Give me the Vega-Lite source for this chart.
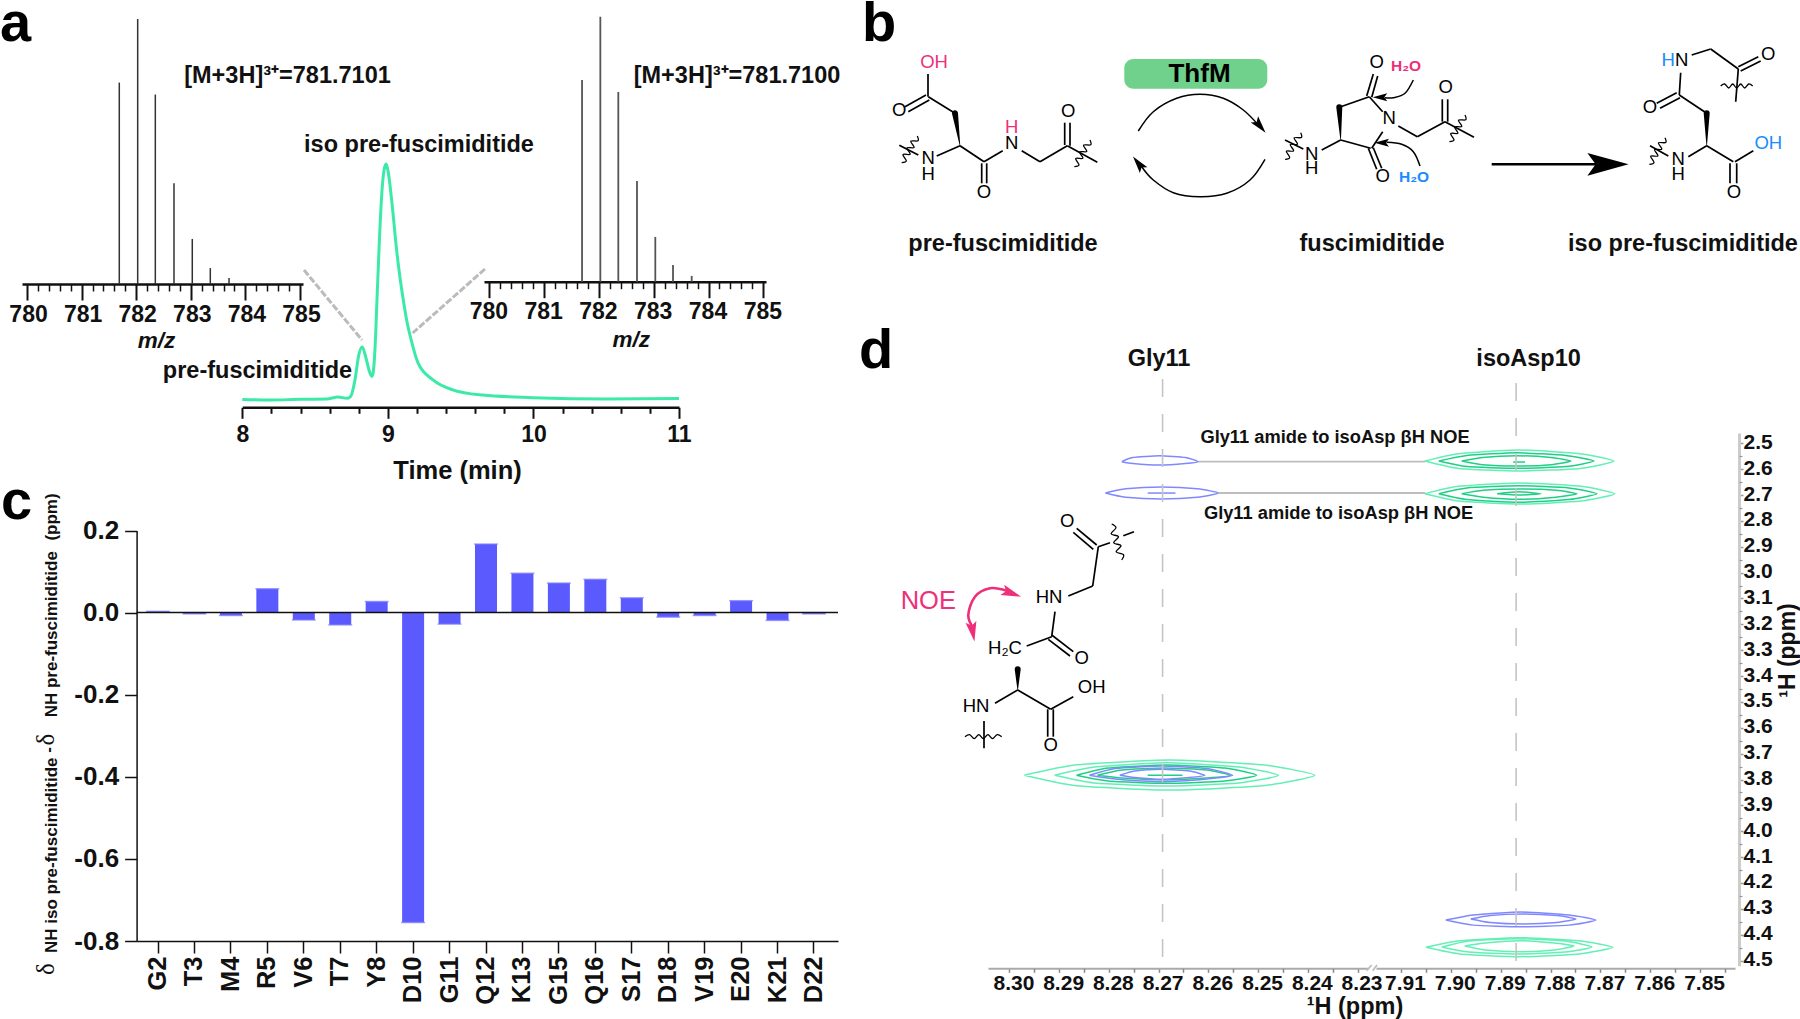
{
"$schema":"https://vega.github.io/schema/vega-lite/v6.json",
"width":1800,"height":1019,"padding":0,"autosize":"none","background":"white",
"config":{"view":{"stroke":null},"font":"Liberation Sans","axis":{"grid":false,"labelFont":"Liberation Sans","titleFont":"Liberation Sans","labelFontWeight":"bold","titleFontWeight":"bold","labelColor":"#111","titleColor":"#111","labelOverlap":false,"labelFlush":false,"labelBound":false,"domainColor":"#111","tickColor":"#111"}},
"resolve":{"scale":{"x":"independent","y":"independent","color":"independent"},"axis":{"x":"independent","y":"independent"}},
"datasets":{
"msLeft":[{"mz":781.69,"intensity":76},{"mz":782.027,"intensity":100},{"mz":782.35,"intensity":71.5},{"mz":782.692,"intensity":38},{"mz":783.027,"intensity":17},{"mz":783.357,"intensity":6},{"mz":783.7,"intensity":2.3}],
"msRight":[{"mz":781.692,"intensity":76.1},{"mz":782.026,"intensity":100},{"mz":782.354,"intensity":71.6},{"mz":782.695,"intensity":38},{"mz":783.029,"intensity":16.9},{"mz":783.352,"intensity":6.3},{"mz":783.693,"intensity":2.2}],
"chrom":[{"t":8.0,"i":0.2},{"t":8.2,"i":0.0},{"t":8.4,"i":0.3},{"t":8.58,"i":0.4},{"t":8.657,"i":1.3},{"t":8.72,"i":0.7},{"t":8.745,"i":1.6},{"t":8.774,"i":8.5},{"t":8.8,"i":19},{"t":8.824,"i":22.5},{"t":8.85,"i":17.7},{"t":8.875,"i":11.8},{"t":8.89,"i":10},{"t":8.9,"i":12},{"t":8.911,"i":21},{"t":8.925,"i":42},{"t":8.942,"i":68},{"t":8.96,"i":89},{"t":8.974,"i":97.5},{"t":8.988,"i":100},{"t":9.0,"i":97.5},{"t":9.026,"i":84.7},{"t":9.06,"i":63.6},{"t":9.083,"i":52},{"t":9.106,"i":42.4},{"t":9.129,"i":33.9},{"t":9.164,"i":24.5},{"t":9.207,"i":15.7},{"t":9.31,"i":8.5},{"t":9.45,"i":4.2},{"t":9.65,"i":2.1},{"t":10.0,"i":1.0},{"t":10.5,"i":0.4},{"t":11.0,"i":0.6}],
"shift":[{"residue":"G2","delta":0.003},{"residue":"T3","delta":-0.003},{"residue":"M4","delta":-0.007},{"residue":"R5","delta":0.058},{"residue":"V6","delta":-0.018},{"residue":"T7","delta":-0.03},{"residue":"Y8","delta":0.027},{"residue":"D10","delta":-0.755},{"residue":"G11","delta":-0.028},{"residue":"Q12","delta":0.167},{"residue":"K13","delta":0.096},{"residue":"G15","delta":0.072},{"residue":"Q16","delta":0.081},{"residue":"S17","delta":0.036},{"residue":"D18","delta":-0.011},{"residue":"V19","delta":-0.007},{"residue":"E20","delta":0.029},{"residue":"K21","delta":-0.019},{"residue":"D22","delta":-0.003}],
"bonds":[
{"x":92.8,"y":7.4,"x2":92.8,"y2":9.67},{"x":92.6,"y":9.5,"x2":90.5,"y2":10.67},{"x":92.93,"y":10.0,"x2":90.83,"y2":11.17},{"x":92.83,"y":9.67,"x2":95.5,"y2":11.33},{"x":96.0,"y":14.57,"x2":93.67,"y2":15.6},{"x":96.0,"y":14.57,"x2":98.4,"y2":16.17},{"x":98.17,"y":16.33,"x2":98.17,"y2":18.33},{"x":98.67,"y":16.33,"x2":98.67,"y2":18.33},{"x":98.4,"y":16.17,"x2":100.27,"y2":15.07},{"x":102.17,"y":15.07,"x2":104.0,"y2":16.17},{"x":104.0,"y":16.17,"x2":106.73,"y2":14.57},{"x":106.47,"y":14.5,"x2":106.47,"y2":12.27},{"x":107.0,"y":14.57,"x2":107.0,"y2":12.27},{"x":106.73,"y":14.57,"x2":109.73,"y2":16.23},{"x":89.93,"y":14.53,"x2":91.83,"y2":15.5},
{"x":134.07,"y":14.0,"x2":132.17,"y2":15.0},{"x":133.93,"y":10.73,"x2":136.93,"y2":9.67},{"x":136.67,"y":9.6,"x2":137.33,"y2":7.4},{"x":137.17,"y":9.73,"x2":137.77,"y2":7.6},{"x":136.93,"y":9.67,"x2":138.27,"y2":11.17},{"x":134.07,"y":14.0,"x2":137.07,"y2":14.83},{"x":137.17,"y":14.83,"x2":138.27,"y2":13.17},{"x":136.83,"y":14.83,"x2":137.67,"y2":16.93},{"x":137.33,"y":14.77,"x2":138.17,"y2":16.83},{"x":139.83,"y":12.6,"x2":141.73,"y2":13.67},{"x":141.73,"y":13.67,"x2":144.5,"y2":12.17},{"x":144.23,"y":12.17,"x2":144.23,"y2":9.93},{"x":144.77,"y":12.17,"x2":144.77,"y2":9.93},{"x":144.5,"y":12.17,"x2":147.4,"y2":13.73},{"x":128.5,"y":14.0,"x2":130.33,"y2":14.9},
{"x":169.17,"y":5.5,"x2":171.07,"y2":4.9},{"x":171.07,"y":4.9,"x2":173.83,"y2":6.9},{"x":173.83,"y":6.67,"x2":175.83,"y2":5.67},{"x":174.07,"y":7.1,"x2":176.07,"y2":6.1},{"x":173.83,"y":6.9,"x2":173.57,"y2":10.17},{"x":168.07,"y":7.27,"x2":167.93,"y2":9.5},{"x":167.67,"y":9.27,"x2":165.67,"y2":10.33},{"x":168.0,"y":9.77,"x2":166.0,"y2":10.83},{"x":167.93,"y":9.5,"x2":170.67,"y2":11.33},{"x":170.67,"y":14.57,"x2":168.83,"y2":15.67},{"x":170.67,"y":14.57,"x2":173.33,"y2":16.17},{"x":173.0,"y":16.33,"x2":173.0,"y2":18.33},{"x":173.67,"y":16.33,"x2":173.67,"y2":18.33},{"x":173.5,"y":16.17,"x2":175.33,"y2":15.07},{"x":165.0,"y":14.57,"x2":166.83,"y2":15.6},
{"x":107.67,"y":52.83,"x2":109.67,"y2":54.5},{"x":107.33,"y":53.23,"x2":109.33,"y2":54.93},{"x":109.83,"y":54.67,"x2":109.27,"y2":58.6},{"x":109.83,"y":54.67,"x2":111.0,"y2":54.27},{"x":112.33,"y":53.57,"x2":113.4,"y2":53.17},{"x":109.27,"y":58.6,"x2":106.83,"y2":59.6},{"x":105.5,"y":61.17,"x2":105.17,"y2":63.67},{"x":105.17,"y":63.5,"x2":107.33,"y2":65.17},{"x":104.83,"y":63.93,"x2":107.0,"y2":65.6},{"x":105.17,"y":63.67,"x2":102.67,"y2":64.6},{"x":101.77,"y":69.0,"x2":99.5,"y2":70.33},{"x":101.77,"y":69.0,"x2":105.07,"y2":70.93},{"x":104.77,"y":70.93,"x2":104.77,"y2":73.67},{"x":105.33,"y":70.93,"x2":105.33,"y2":73.67},{"x":105.07,"y":70.93,"x2":107.33,"y2":69.67},{"x":98.4,"y":72.1,"x2":98.4,"y2":74.83}],
"wedges":[{"id":"a","x":95.5,"y":11.33,"w":1,"i":0},{"id":"a","x":96.0,"y":14.57,"w":0,"i":1},{"id":"b","x":133.93,"y":10.73,"w":1,"i":0},{"id":"b","x":134.07,"y":14.0,"w":0,"i":1},{"id":"c","x":170.67,"y":11.33,"w":1,"i":0},{"id":"c","x":170.67,"y":14.57,"w":0,"i":1},{"id":"d","x":101.77,"y":66.93,"w":1,"i":0},{"id":"d","x":101.77,"y":69.0,"w":0,"i":1}],
"waves":[
{"id":1,"x":91.73,"y":13.6},{"id":1,"x":91.8,"y":14.08},{"id":1,"x":91.08,"y":14.12},{"id":1,"x":91.41,"y":14.75},{"id":1,"x":90.69,"y":14.79},{"id":1,"x":91.02,"y":15.42},{"id":1,"x":90.3,"y":15.45},{"id":1,"x":90.63,"y":16.09},{"id":1,"x":90.17,"y":16.27},
{"id":2,"x":109.0,"y":14.0},{"id":2,"x":109.07,"y":14.48},{"id":2,"x":108.35,"y":14.52},{"id":2,"x":108.68,"y":15.15},{"id":2,"x":107.96,"y":15.19},{"id":2,"x":108.29,"y":15.82},{"id":2,"x":107.57,"y":15.85},{"id":2,"x":107.9,"y":16.49},{"id":2,"x":107.44,"y":16.67},
{"id":3,"x":130.07,"y":13.27},{"id":3,"x":130.14,"y":13.75},{"id":3,"x":129.42,"y":13.79},{"id":3,"x":129.75,"y":14.42},{"id":3,"x":129.03,"y":14.46},{"id":3,"x":129.36,"y":15.09},{"id":3,"x":128.64,"y":15.12},{"id":3,"x":128.97,"y":15.76},{"id":3,"x":128.51,"y":15.94},
{"id":4,"x":146.5,"y":11.5},{"id":4,"x":146.57,"y":11.98},{"id":4,"x":145.85,"y":12.02},{"id":4,"x":146.18,"y":12.65},{"id":4,"x":145.46,"y":12.69},{"id":4,"x":145.79,"y":13.32},{"id":4,"x":145.07,"y":13.35},{"id":4,"x":145.4,"y":13.99},{"id":4,"x":144.94,"y":14.17},
{"id":5,"x":166.5,"y":13.77},{"id":5,"x":166.57,"y":14.25},{"id":5,"x":165.85,"y":14.29},{"id":5,"x":166.18,"y":14.92},{"id":5,"x":165.46,"y":14.96},{"id":5,"x":165.79,"y":15.59},{"id":5,"x":165.07,"y":15.62},{"id":5,"x":165.4,"y":16.26},{"id":5,"x":164.94,"y":16.44},
{"id":6,"x":172.07,"y":8.6},{"id":6,"x":172.47,"y":8.4},{"id":6,"x":172.87,"y":8.8},{"id":6,"x":173.27,"y":8.4},{"id":6,"x":173.67,"y":8.8},{"id":6,"x":174.07,"y":8.4},{"id":6,"x":174.47,"y":8.8},{"id":6,"x":174.87,"y":8.4},{"id":6,"x":175.27,"y":8.6},
{"id":7,"x":111.17,"y":52.4},{"id":7,"x":111.6,"y":52.77},{"id":7,"x":111.12,"y":53.38},{"id":7,"x":111.85,"y":53.67},{"id":7,"x":111.37,"y":54.28},{"id":7,"x":112.1,"y":54.57},{"id":7,"x":111.62,"y":55.18},{"id":7,"x":112.35,"y":55.47},{"id":7,"x":112.17,"y":56.0},
{"id":8,"x":96.5,"y":73.67},{"id":8,"x":96.96,"y":73.47},{"id":8,"x":97.42,"y":73.87},{"id":8,"x":97.88,"y":73.47},{"id":8,"x":98.33,"y":73.87},{"id":8,"x":98.79,"y":73.47},{"id":8,"x":99.25,"y":73.87},{"id":8,"x":99.71,"y":73.47},{"id":8,"x":100.17,"y":73.67}],
"curves":[
{"id":"top","x":113.83,"y":13.1},{"id":"top","x":115.33,"y":11.17},{"id":"top","x":117.67,"y":9.83},{"id":"top","x":120.0,"y":9.43},{"id":"top","x":122.33,"y":9.83},{"id":"top","x":124.33,"y":11.0},{"id":"top","x":125.83,"y":12.5},
{"id":"bottom","x":126.5,"y":15.93},{"id":"bottom","x":125.0,"y":18.0},{"id":"bottom","x":122.67,"y":19.33},{"id":"bottom","x":120.0,"y":19.67},{"id":"bottom","x":117.33,"y":19.27},{"id":"bottom","x":115.33,"y":18.0},{"id":"bottom","x":114.17,"y":16.67},
{"id":"h2oA","x":141.33,"y":8.0},{"id":"h2oA","x":140.5,"y":9.33},{"id":"h2oA","x":139.33,"y":9.77},{"id":"h2oA","x":138.5,"y":9.77},
{"id":"h2oB","x":142.0,"y":16.6},{"id":"h2oB","x":141.33,"y":15.17},{"id":"h2oB","x":140.17,"y":14.43},{"id":"h2oB","x":138.67,"y":14.23}],
"noeCurve":[{"x":97.33,"y":62.83},{"x":96.83,"y":61.5},{"x":97.5,"y":59.67},{"x":99.0,"y":58.83},{"x":100.67,"y":59.07}],
"heads":[{"x":126.0,"y":12.6,"dir":50,"area":300,"tone":"ink"},{"x":113.83,"y":16.33,"dir":232,"area":300,"tone":"ink"},{"x":138.0,"y":9.73,"dir":180,"area":210,"tone":"ink"},{"x":138.17,"y":14.27,"dir":180,"area":210,"tone":"ink"},{"x":160.8,"y":16.43,"dir":0,"area":1700,"tone":"ink"},{"x":101.17,"y":59.33,"dir":20,"area":400,"tone":"acid"},{"x":97.27,"y":63.17,"dir":80,"area":400,"tone":"acid"}],
"chemText":[{"x":93.4,"y":6.17,"label":"OH","tone":"acid"},{"x":89.93,"y":11.0,"label":"O","tone":"ink"},{"x":92.83,"y":15.83,"label":"N","tone":"ink"},{"x":92.83,"y":17.4,"label":"H","tone":"ink"},{"x":98.4,"y":19.17,"label":"O","tone":"ink"},{"x":101.17,"y":14.27,"label":"N","tone":"ink"},{"x":101.17,"y":12.73,"label":"H","tone":"acid"},{"x":106.83,"y":11.07,"label":"O","tone":"ink"},
{"x":131.17,"y":15.4,"label":"N","tone":"ink"},{"x":131.17,"y":16.83,"label":"H","tone":"ink"},{"x":137.67,"y":6.17,"label":"O","tone":"ink"},{"x":138.93,"y":11.83,"label":"N","tone":"ink"},{"x":138.27,"y":17.6,"label":"O","tone":"ink"},{"x":144.57,"y":8.67,"label":"O","tone":"ink"},
{"x":166.83,"y":6.0,"label":"H","tone":"water"},{"x":168.17,"y":6.0,"label":"N","tone":"ink"},{"x":176.83,"y":5.4,"label":"O","tone":"ink"},{"x":165.0,"y":10.67,"label":"O","tone":"ink"},{"x":167.83,"y":15.93,"label":"N","tone":"ink"},{"x":167.83,"y":17.4,"label":"H","tone":"ink"},{"x":173.4,"y":19.17,"label":"O","tone":"ink"},{"x":176.83,"y":14.33,"label":"OH","tone":"water"},
{"x":106.73,"y":52.07,"label":"O","tone":"ink"},{"x":104.9,"y":59.67,"label":"HN","tone":"ink"},{"x":108.17,"y":65.83,"label":"O","tone":"ink"},{"x":100.5,"y":64.83,"label":"H₂C","tone":"ink"},{"x":97.6,"y":70.57,"label":"HN","tone":"ink"},{"x":109.17,"y":68.67,"label":"OH","tone":"ink"},{"x":105.07,"y":74.5,"label":"O","tone":"ink"}],
"waterText":[{"x":140.6,"y":6.6,"label":"H₂O","tone":"acid"},{"x":141.4,"y":17.73,"label":"H₂O","tone":"water"}],
"boldText":[{"x":28.75,"y":7.6,"label":"[M+3H]³⁺=781.7101"},{"x":73.7,"y":7.6,"label":"[M+3H]³⁺=781.7100"},{"x":41.9,"y":14.5,"label":"iso pre-fuscimiditide"},{"x":25.75,"y":37.1,"label":"pre-fuscimiditide"},{"x":100.3,"y":24.4,"label":"pre-fuscimiditide"},{"x":137.2,"y":24.4,"label":"fuscimiditide"},{"x":168.3,"y":24.4,"label":"iso pre-fuscimiditide"},{"x":115.9,"y":35.9,"label":"Gly11"},{"x":152.86,"y":35.9,"label":"isoAsp10"}],
"noeText":[{"x":133.5,"y":43.8,"label":"Gly11 amide to isoAsp βH NOE"},{"x":133.85,"y":51.35,"label":"Gly11 amide to isoAsp βH NOE"}],
"letters":[{"x":0,"y":4.1,"label":"a"},{"x":86.2,"y":4.1,"label":"b"},{"x":0.1,"y":51.9,"label":"c"},{"x":85.9,"y":36.8,"label":"d"}],
"ytitle":[{"x":5.23,"y":85.52,"label":"NH iso pre-fuscimiditide"},{"x":4.9,"y":75.0,"label":"-"},{"x":5.23,"y":63.42,"label":"NH pre-fuscimiditide"},{"x":5.23,"y":51.7,"label":"(ppm)"}],
"ydelta":[{"x":4.55,"y":96.9,"label":"δ"},{"x":4.55,"y":73.97,"label":"δ"}],
"contoursR":[
{"r":"R1","s":"isoLow","x":7.9052,"y":2.5684},{"r":"R1","s":"isoLow","x":7.8984,"y":2.5398},{"r":"R1","s":"isoLow","x":7.8862,"y":2.5259},{"r":"R1","s":"isoLow","x":7.8741,"y":2.5398},{"r":"R1","s":"isoLow","x":7.8673,"y":2.5684},{"r":"R1","s":"isoLow","x":7.8741,"y":2.5971},{"r":"R1","s":"isoLow","x":7.8862,"y":2.6071},{"r":"R1","s":"isoLow","x":7.8984,"y":2.5971},{"r":"R1","s":"isoLow","x":7.9052,"y":2.5684},
{"r":"R2","s":"isoHigh","x":7.9024,"y":2.5684},{"r":"R2","s":"isoHigh","x":7.8968,"y":2.5472},{"r":"R2","s":"isoHigh","x":7.8868,"y":2.5363},{"r":"R2","s":"isoHigh","x":7.8769,"y":2.5472},{"r":"R2","s":"isoHigh","x":7.8713,"y":2.5684},{"r":"R2","s":"isoHigh","x":7.8769,"y":2.5897},{"r":"R2","s":"isoHigh","x":7.8868,"y":2.5967},{"r":"R2","s":"isoHigh","x":7.8968,"y":2.5897},{"r":"R2","s":"isoHigh","x":7.9024,"y":2.5684},
{"r":"R3","s":"isoHigh","x":7.8978,"y":2.5684},{"r":"R3","s":"isoHigh","x":7.8937,"y":2.5545},{"r":"R3","s":"isoHigh","x":7.8868,"y":2.548},{"r":"R3","s":"isoHigh","x":7.8799,"y":2.5545},{"r":"R3","s":"isoHigh","x":7.8759,"y":2.5684},{"r":"R3","s":"isoHigh","x":7.8799,"y":2.5824},{"r":"R3","s":"isoHigh","x":7.8868,"y":2.5878},{"r":"R3","s":"isoHigh","x":7.8937,"y":2.5824},{"r":"R3","s":"isoHigh","x":7.8978,"y":2.5684},
{"r":"R4","s":"isoHigh","x":7.8875,"y":2.5723},{"r":"R4","s":"isoHigh","x":7.8851,"y":2.5723},
{"r":"R5","s":"isoLow","x":7.9052,"y":2.6949},{"r":"R5","s":"isoLow","x":7.8984,"y":2.6663},{"r":"R5","s":"isoLow","x":7.8861,"y":2.6535},{"r":"R5","s":"isoLow","x":7.8739,"y":2.6663},{"r":"R5","s":"isoLow","x":7.8671,"y":2.6949},{"r":"R5","s":"isoLow","x":7.8739,"y":2.7231},{"r":"R5","s":"isoLow","x":7.8861,"y":2.7347},{"r":"R5","s":"isoLow","x":7.8984,"y":2.7231},{"r":"R5","s":"isoLow","x":7.9052,"y":2.6949},
{"r":"R6","s":"isoHigh","x":7.9024,"y":2.6949},{"r":"R6","s":"isoHigh","x":7.8968,"y":2.6725},{"r":"R6","s":"isoHigh","x":7.8865,"y":2.664},{"r":"R6","s":"isoHigh","x":7.8763,"y":2.6725},{"r":"R6","s":"isoHigh","x":7.8707,"y":2.6949},{"r":"R6","s":"isoHigh","x":7.8763,"y":2.7173},{"r":"R6","s":"isoHigh","x":7.8865,"y":2.7282},{"r":"R6","s":"isoHigh","x":7.8968,"y":2.7173},{"r":"R6","s":"isoHigh","x":7.9024,"y":2.6949},
{"r":"R7","s":"isoHigh","x":7.8978,"y":2.6949},{"r":"R7","s":"isoHigh","x":7.8935,"y":2.6814},{"r":"R7","s":"isoHigh","x":7.8862,"y":2.6767},{"r":"R7","s":"isoHigh","x":7.8789,"y":2.6814},{"r":"R7","s":"isoHigh","x":7.8747,"y":2.6949},{"r":"R7","s":"isoHigh","x":7.8789,"y":2.7084},{"r":"R7","s":"isoHigh","x":7.8862,"y":2.7166},{"r":"R7","s":"isoHigh","x":7.8935,"y":2.7084},{"r":"R7","s":"isoHigh","x":7.8978,"y":2.6949},
{"r":"R8","s":"isoHigh","x":7.8907,"y":2.6949},{"r":"R8","s":"isoHigh","x":7.8863,"y":2.6872},{"r":"R8","s":"isoHigh","x":7.8819,"y":2.6949},{"r":"R8","s":"isoHigh","x":7.8863,"y":2.6999},{"r":"R8","s":"isoHigh","x":7.8907,"y":2.6949},
{"r":"R9","s":"pre","x":7.901,"y":4.3434},{"r":"R9","s":"pre","x":7.8955,"y":4.3237},{"r":"R9","s":"pre","x":7.8859,"y":4.3125},{"r":"R9","s":"pre","x":7.8763,"y":4.3237},{"r":"R9","s":"pre","x":7.8709,"y":4.3434},{"r":"R9","s":"pre","x":7.8763,"y":4.3631},{"r":"R9","s":"pre","x":7.8859,"y":4.3693},{"r":"R9","s":"pre","x":7.8955,"y":4.3631},{"r":"R9","s":"pre","x":7.901,"y":4.3434},
{"r":"R10","s":"pre","x":7.896,"y":4.3395},{"r":"R10","s":"pre","x":7.8921,"y":4.326},{"r":"R10","s":"pre","x":7.8855,"y":4.3202},{"r":"R10","s":"pre","x":7.8787,"y":4.326},{"r":"R10","s":"pre","x":7.8749,"y":4.3395},{"r":"R10","s":"pre","x":7.8787,"y":4.3531},{"r":"R10","s":"pre","x":7.8855,"y":4.3589},{"r":"R10","s":"pre","x":7.8921,"y":4.3531},{"r":"R10","s":"pre","x":7.896,"y":4.3395},
{"r":"R11","s":"isoLow","x":7.905,"y":4.449},{"r":"R11","s":"isoLow","x":7.8982,"y":4.4234},{"r":"R11","s":"isoLow","x":7.8862,"y":4.4118},{"r":"R11","s":"isoLow","x":7.8743,"y":4.4234},{"r":"R11","s":"isoLow","x":7.8675,"y":4.449},{"r":"R11","s":"isoLow","x":7.8743,"y":4.4745},{"r":"R11","s":"isoLow","x":7.8862,"y":4.4853},{"r":"R11","s":"isoLow","x":7.8982,"y":4.4745},{"r":"R11","s":"isoLow","x":7.905,"y":4.449},
{"r":"R12","s":"isoLow","x":7.9018,"y":4.4478},{"r":"R12","s":"isoLow","x":7.8964,"y":4.4246},{"r":"R12","s":"isoLow","x":7.8867,"y":4.4157},{"r":"R12","s":"isoLow","x":7.8771,"y":4.4246},{"r":"R12","s":"isoLow","x":7.8717,"y":4.4478},{"r":"R12","s":"isoLow","x":7.8771,"y":4.4671},{"r":"R12","s":"isoLow","x":7.8867,"y":4.4749},{"r":"R12","s":"isoLow","x":7.8964,"y":4.4671},{"r":"R12","s":"isoLow","x":7.9018,"y":4.4478},
{"r":"R13","s":"isoLow","x":7.8972,"y":4.4439},{"r":"R13","s":"isoLow","x":7.8931,"y":4.4323},{"r":"R13","s":"isoLow","x":7.8862,"y":4.4234},{"r":"R13","s":"isoLow","x":7.8793,"y":4.4323},{"r":"R13","s":"isoLow","x":7.8753,"y":4.4439},{"r":"R13","s":"isoLow","x":7.8793,"y":4.4594},{"r":"R13","s":"isoLow","x":7.8862,"y":4.466},{"r":"R13","s":"isoLow","x":7.8931,"y":4.4594},{"r":"R13","s":"isoLow","x":7.8972,"y":4.4439}],
"contoursL":[
{"r":"L1","s":"pre","x":8.2774,"y":2.5712},{"r":"L1","s":"pre","x":8.2752,"y":2.5549},{"r":"L1","s":"pre","x":8.2698,"y":2.548},{"r":"L1","s":"pre","x":8.2646,"y":2.5549},{"r":"L1","s":"pre","x":8.262,"y":2.5712},{"r":"L1","s":"pre","x":8.2646,"y":2.5781},{"r":"L1","s":"pre","x":8.2698,"y":2.5839},{"r":"L1","s":"pre","x":8.2752,"y":2.5781},{"r":"L1","s":"pre","x":8.2774,"y":2.5712},
{"r":"L2","s":"pre","x":8.2807,"y":2.6922},{"r":"L2","s":"pre","x":8.2766,"y":2.676},{"r":"L2","s":"pre","x":8.2694,"y":2.669},{"r":"L2","s":"pre","x":8.2622,"y":2.676},{"r":"L2","s":"pre","x":8.2579,"y":2.6922},{"r":"L2","s":"pre","x":8.2622,"y":2.7084},{"r":"L2","s":"pre","x":8.2694,"y":2.7154},{"r":"L2","s":"pre","x":8.2766,"y":2.7084},{"r":"L2","s":"pre","x":8.2807,"y":2.6922},
{"r":"L3","s":"pre","x":8.2722,"y":2.6922},{"r":"L3","s":"pre","x":8.2666,"y":2.6922},
{"r":"L4","s":"isoLow","x":8.297,"y":3.7838},{"r":"L4","s":"isoLow","x":8.2865,"y":3.7432},{"r":"L4","s":"isoLow","x":8.2678,"y":3.7247},{"r":"L4","s":"isoLow","x":8.2491,"y":3.7432},{"r":"L4","s":"isoLow","x":8.2386,"y":3.7838},{"r":"L4","s":"isoLow","x":8.2491,"y":3.8244},{"r":"L4","s":"isoLow","x":8.2678,"y":3.8407},{"r":"L4","s":"isoLow","x":8.2865,"y":3.8244},{"r":"L4","s":"isoLow","x":8.297,"y":3.7838},
{"r":"L5","s":"isoLow","x":8.2909,"y":3.7838},{"r":"L5","s":"isoLow","x":8.2829,"y":3.7518},{"r":"L5","s":"isoLow","x":8.2684,"y":3.7351},{"r":"L5","s":"isoLow","x":8.2539,"y":3.7518},{"r":"L5","s":"isoLow","x":8.2459,"y":3.7838},{"r":"L5","s":"isoLow","x":8.2539,"y":3.8136},{"r":"L5","s":"isoLow","x":8.2684,"y":3.8252},{"r":"L5","s":"isoLow","x":8.2829,"y":3.8136},{"r":"L5","s":"isoLow","x":8.2909,"y":3.7838},
{"r":"L6","s":"isoHigh","x":8.2865,"y":3.7838},{"r":"L6","s":"isoHigh","x":8.2801,"y":3.7556},{"r":"L6","s":"isoHigh","x":8.2684,"y":3.744},{"r":"L6","s":"isoHigh","x":8.2567,"y":3.7556},{"r":"L6","s":"isoHigh","x":8.2503,"y":3.7838},{"r":"L6","s":"isoHigh","x":8.2567,"y":3.8059},{"r":"L6","s":"isoHigh","x":8.2684,"y":3.8148},{"r":"L6","s":"isoHigh","x":8.2801,"y":3.8059},{"r":"L6","s":"isoHigh","x":8.2865,"y":3.7838},
{"r":"L7","s":"isoHigh","x":8.2823,"y":3.7838},{"r":"L7","s":"isoHigh","x":8.2774,"y":3.7633},{"r":"L7","s":"isoHigh","x":8.2688,"y":3.7556},{"r":"L7","s":"isoHigh","x":8.2603,"y":3.7633},{"r":"L7","s":"isoHigh","x":8.2555,"y":3.7838},{"r":"L7","s":"isoHigh","x":8.2603,"y":3.7943},{"r":"L7","s":"isoHigh","x":8.2688,"y":3.802},{"r":"L7","s":"isoHigh","x":8.2774,"y":3.7943},{"r":"L7","s":"isoHigh","x":8.2823,"y":3.7838},
{"r":"L8","s":"pre","x":8.2839,"y":3.7838},{"r":"L8","s":"pre","x":8.2787,"y":3.7576},{"r":"L8","s":"pre","x":8.2694,"y":3.7479},{"r":"L8","s":"pre","x":8.2603,"y":3.7576},{"r":"L8","s":"pre","x":8.2551,"y":3.7838},{"r":"L8","s":"pre","x":8.2603,"y":3.7981},{"r":"L8","s":"pre","x":8.2694,"y":3.8086},{"r":"L8","s":"pre","x":8.2787,"y":3.7981},{"r":"L8","s":"pre","x":8.2839,"y":3.7838},
{"r":"L9","s":"pre","x":8.2778,"y":3.7838},{"r":"L9","s":"pre","x":8.2748,"y":3.7672},{"r":"L9","s":"pre","x":8.2694,"y":3.7606},{"r":"L9","s":"pre","x":8.2638,"y":3.7672},{"r":"L9","s":"pre","x":8.2607,"y":3.7838},{"r":"L9","s":"pre","x":8.2638,"y":3.7924},{"r":"L9","s":"pre","x":8.2694,"y":3.7993},{"r":"L9","s":"pre","x":8.2748,"y":3.7924},{"r":"L9","s":"pre","x":8.2778,"y":3.7838},
{"r":"L10","s":"isoHigh","x":8.2722,"y":3.7838},{"r":"L10","s":"isoHigh","x":8.2652,"y":3.7838}]
},
"layer":[
{"data":{"name":"msLeft"},"mark":{"type":"rule","stroke":"#333","strokeWidth":1.5},"encoding":{"x":{"field":"mz","type":"quantitative","scale":{"domain":[779.908,785.055],"range":[22,303]},"axis":{"orient":"bottom","offset":-735,"values":[780,781,782,783,784,785],"format":"d","tickSize":16,"tickWidth":2,"domainWidth":2.5,"labelFontSize":23,"labelPadding":3,"labelOffset":1,"title":"m/z","titleFontStyle":"italic","titleFontSize":22.5,"titleX":156,"titleY":56,"titleBaseline":"middle"}},"y":{"field":"intensity","type":"quantitative","scale":{"domain":[0,100],"range":[284,19]},"axis":null},"y2":{"datum":0}}},
{"data":{"name":"msLeft"},"mark":{"type":"rule","opacity":0},"encoding":{"x":{"field":"mz","type":"quantitative","scale":{"domain":[779.908,785.055],"range":[22,303]},"axis":{"orient":"bottom","offset":-735,"values":[780.2,780.4,780.6,780.8,781.2,781.4,781.6,781.8,782.2,782.4,782.6,782.8,783.2,783.4,783.6,783.8,784.2,784.4,784.6,784.8],"tickSize":7,"tickWidth":1.5,"labels":false,"domain":false,"title":null}},"y":{"field":"intensity","type":"quantitative","scale":{"domain":[0,100],"range":[284,19]},"axis":null}}},
{"data":{"name":"msRight"},"mark":{"type":"rule","stroke":"#555","strokeWidth":1.8},"encoding":{"x":{"field":"mz","type":"quantitative","scale":{"domain":[779.903,785.049],"range":[484,766]},"axis":{"orient":"bottom","offset":-737.3,"values":[780,781,782,783,784,785],"format":"d","tickSize":16,"tickWidth":2,"domainWidth":2.5,"labelFontSize":23,"labelPadding":3,"labelOffset":-1,"title":"m/z","titleFontStyle":"italic","titleFontSize":22.5,"titleX":630.7,"titleY":58,"titleBaseline":"middle"}},"y":{"field":"intensity","type":"quantitative","scale":{"domain":[0,100],"range":[281.7,16.7]},"axis":null},"y2":{"datum":0}}},
{"data":{"name":"msRight"},"mark":{"type":"rule","opacity":0},"encoding":{"x":{"field":"mz","type":"quantitative","scale":{"domain":[779.903,785.049],"range":[484,766]},"axis":{"orient":"bottom","offset":-737.3,"values":[780.2,780.4,780.6,780.8,781.2,781.4,781.6,781.8,782.2,782.4,782.6,782.8,783.2,783.4,783.6,783.8,784.2,784.4,784.6,784.8],"tickSize":7,"tickWidth":1.5,"labels":false,"domain":false,"title":null}},"y":{"field":"intensity","type":"quantitative","scale":{"domain":[0,100],"range":[281.7,16.7]},"axis":null}}},
{"data":{"name":"chrom"},"mark":{"type":"line","stroke":"#3ceaa8","strokeWidth":3,"interpolate":"monotone"},"encoding":{"x":{"field":"t","type":"quantitative","scale":{"domain":[8,11],"range":[242.3,679]},"axis":{"orient":"bottom","offset":-611.7,"values":[8,9,10,11],"format":"d","tickSize":11,"tickWidth":2,"domainWidth":2.5,"labelFontSize":23,"labelPadding":5,"title":"Time (min)","titleFontSize":25.5,"titleX":457,"titleY":62.7,"titleBaseline":"middle"}},"y":{"field":"i","type":"quantitative","scale":{"domain":[0,100],"range":[400,164]},"axis":null}}},
{"data":{"name":"chrom"},"mark":{"type":"rule","opacity":0},"encoding":{"x":{"field":"t","type":"quantitative","scale":{"domain":[8,11],"range":[242.3,679]},"axis":{"orient":"bottom","offset":-611.7,"values":[8.2,8.4,8.6,8.8,9.2,9.4,9.6,9.8,10.2,10.4,10.6,10.8],"tickSize":6,"tickWidth":2,"labels":false,"domain":false,"title":null}},"y":{"field":"i","type":"quantitative","scale":{"domain":[0,100],"range":[400,164]},"axis":null}}},
{"data":{"name":"shift"},"mark":{"type":"bar","color":"#5a5aff","size":22},"encoding":{"x":{"field":"residue","type":"nominal","sort":null,"scale":{"range":[139.8,832.2],"paddingInner":0,"paddingOuter":0},"axis":{"orient":"bottom","offset":-78,"domain":false,"tickSize":12,"tickWidth":1.5,"labelFontSize":25.5,"labelAngle":270,"labelAlign":"right","labelBaseline":"middle","labelPadding":3,"title":null}},"y":{"field":"delta","type":"quantitative","scale":{"domain":[-0.8,0.2],"range":[941,530.5]},"axis":{"orient":"left","offset":-136.6,"values":[-0.8,-0.6,-0.4,-0.2,0,0.2],"format":".1f","labelExpr":"replace(datum.label,'−','-')","tickSize":12,"tickWidth":1.5,"domainWidth":1.5,"labelFontSize":26,"labelPadding":6,"title":null}}}},
{"data":{"name":"shift"},"mark":{"type":"tick","color":"#7c7cff","size":24,"thickness":1.5,"orient":"horizontal"},"encoding":{"x":{"field":"residue","type":"nominal","sort":null,"scale":{"range":[139.8,832.2],"paddingInner":0,"paddingOuter":0},"axis":null},"y":{"field":"delta","type":"quantitative","scale":{"domain":[-0.8,0.2],"range":[941,530.5]},"axis":null}}},
{"data":{"values":[{"a":0,"b":1,"level":0}]},"mark":{"type":"rule","stroke":"#111","strokeWidth":1.5},"encoding":{"x":{"field":"a","type":"quantitative","scale":{"domain":[0,1],"range":[136.6,838]},"axis":{"orient":"bottom","offset":-78,"domainWidth":1.5,"ticks":false,"labels":false,"title":null}},"x2":{"field":"b"},"y":{"field":"level","type":"quantitative","scale":{"domain":[-0.8,0.2],"range":[941,530.5]},"axis":null}}},
{"data":{"name":"contoursL"},"mark":{"type":"line","strokeWidth":1.5,"interpolate":"cardinal","tension":0.45},"encoding":{"x":{"field":"x","type":"quantitative","scale":{"domain":[8.3043,8.2279],"range":[988,1368]},"axis":{"orient":"bottom","offset":-50.7,"values":[8.3,8.29,8.28,8.27,8.26,8.25,8.24,8.23],"format":".2f","tickSize":4,"tickWidth":1.5,"tickColor":"#888","domainColor":"#aaa","domainWidth":2,"labelFontSize":21,"labelOffset":4,"labelPadding":0,"title":"¹H (ppm)","titleFontSize":23.5,"titleX":1354.5,"titleY":38,"titleBaseline":"middle"}},"y":{"field":"y","type":"quantitative","scale":{"domain":[2.46,4.52],"range":[433,965.7]},"axis":{"orient":"right","offset":-61,"values":[2.5,2.6,2.7,2.8,2.9,3.0,3.1,3.2,3.3,3.4,3.5,3.6,3.7,3.8,3.9,4.0,4.1,4.2,4.3,4.4,4.5],"format":".1f","tickSize":4,"tickWidth":1.5,"tickColor":"#999","domainColor":"#ccc","domainWidth":3,"labelFontSize":21,"labelPadding":0,"labelOffset":-1,"title":"¹H (ppm)","titleFontSize":23,"titleAngle":270,"titleX":48,"titleY":650,"titleBaseline":"middle"}},"detail":{"field":"r"},"color":{"field":"s","type":"nominal","scale":{"domain":["pre","isoLow","isoHigh"],"range":["#8088ff","#63efb5","#1fcf85"]},"legend":null},"order":{"value":null}}},
{"data":{"name":"contoursL"},"mark":{"type":"rule","opacity":0},"encoding":{"x":{"field":"x","type":"quantitative","scale":{"domain":[8.3043,8.2279],"range":[988,1368]},"axis":{"orient":"bottom","offset":-50.7,"values":[8.295,8.285,8.275,8.265,8.255,8.245,8.235],"tickSize":4,"tickWidth":1.5,"tickColor":"#888","labels":false,"domain":false,"title":null}},"y":{"field":"y","type":"quantitative","scale":{"domain":[2.46,4.52],"range":[433,965.7]},"axis":{"orient":"right","offset":-61,"values":[2.55,2.65,2.75,2.85,2.95,3.05,3.15,3.25,3.35,3.45,3.55,3.65,3.75,3.85,3.95,4.05,4.15,4.25,4.35,4.45],"tickSize":3,"tickWidth":1.2,"tickColor":"#999","labels":false,"domain":false,"title":null}}}},
{"data":{"name":"contoursR"},"mark":{"type":"line","strokeWidth":1.5,"interpolate":"cardinal","tension":0.45},"encoding":{"x":{"field":"x","type":"quantitative","scale":{"domain":[7.915,7.843],"range":[1376,1735]},"axis":{"orient":"bottom","offset":-50.7,"values":[7.91,7.9,7.89,7.88,7.87,7.86,7.85],"format":".2f","tickSize":4,"tickWidth":1.5,"tickColor":"#888","domainColor":"#aaa","domainWidth":2,"labelFontSize":21,"labelOffset":4,"labelPadding":0,"title":null}},"y":{"field":"y","type":"quantitative","scale":{"domain":[2.46,4.52],"range":[433,965.7]},"axis":null},"detail":{"field":"r"},"color":{"field":"s","type":"nominal","scale":{"domain":["pre","isoLow","isoHigh"],"range":["#8088ff","#63efb5","#1fcf85"]},"legend":null},"order":{"value":null}}},
{"data":{"name":"contoursR"},"mark":{"type":"rule","opacity":0},"encoding":{"x":{"field":"x","type":"quantitative","scale":{"domain":[7.915,7.843],"range":[1376,1735]},"axis":{"orient":"bottom","offset":-50.7,"values":[7.905,7.895,7.885,7.875,7.865,7.855,7.845],"tickSize":4,"tickWidth":1.5,"tickColor":"#888","labels":false,"domain":false,"title":null}},"y":{"field":"y","type":"quantitative","scale":{"domain":[2.46,4.52],"range":[433,965.7]},"axis":null}}},
{"data":{"values":[{"ppm":8.2692,"from":2.251,"to":4.505}]},"mark":{"type":"rule","stroke":"#c4c4c4","strokeWidth":1.6,"strokeDash":[18,17]},"encoding":{"x":{"field":"ppm","type":"quantitative","scale":{"domain":[8.3043,8.2279],"range":[988,1368]},"axis":null},"y":{"field":"from","type":"quantitative","scale":{"domain":[2.46,4.52],"range":[433,965.7]},"axis":null},"y2":{"field":"to"}}},
{"data":{"values":[{"ppm":7.8869,"from":2.267,"to":4.505}]},"mark":{"type":"rule","stroke":"#c4c4c4","strokeWidth":1.6,"strokeDash":[18,17]},"encoding":{"x":{"field":"ppm","type":"quantitative","scale":{"domain":[7.915,7.843],"range":[1376,1735]},"axis":null},"y":{"field":"from","type":"quantitative","scale":{"domain":[2.46,4.52],"range":[433,965.7]},"axis":null},"y2":{"field":"to"}}},
{"data":{"values":[{"x":119.9,"y":46.17,"x2":142.5,"y2":46.17},{"x":121.9,"y":49.3,"x2":142.5,"y2":49.3},{"x":136.67,"y":97.07,"x2":137.17,"y2":96.5},{"x":137.27,"y":97.07,"x2":137.7,"y2":96.5}]},"mark":{"type":"rule","stroke":"#bdbdbd","strokeWidth":1.8},"encoding":{"x":{"field":"x","type":"quantitative","scale":{"domain":[0,180],"range":[0,1800]},"axis":null},"y":{"field":"y","type":"quantitative","scale":{"domain":[0,101.9],"range":[0,1019]},"axis":null},"x2":{"field":"x2"},"y2":{"field":"y2"}}},
{"data":{"values":[{"x":30.4,"y":27.0,"x2":36.2,"y2":34.0},{"x":48.5,"y":26.9,"x2":41.27,"y2":33.3}]},"mark":{"type":"rule","stroke":"#bbbbbb","strokeWidth":3,"strokeDash":[7,2]},"encoding":{"x":{"field":"x","type":"quantitative","scale":{"domain":[0,180],"range":[0,1800]},"axis":null},"y":{"field":"y","type":"quantitative","scale":{"domain":[0,101.9],"range":[0,1019]},"axis":null},"x2":{"field":"x2"},"y2":{"field":"y2"}}},
{"data":{"values":[{"x":112.43,"x2":126.73,"y":5.9,"y2":8.87}]},"mark":{"type":"rect","color":"#6fd18c","cornerRadius":9},"encoding":{"x":{"field":"x","type":"quantitative","scale":{"domain":[0,180],"range":[0,1800]},"axis":null},"y":{"field":"y","type":"quantitative","scale":{"domain":[0,101.9],"range":[0,1019]},"axis":null},"x2":{"field":"x2"},"y2":{"field":"y2"}}},
{"data":{"values":[{"x":119.95,"y":7.35,"label":"ThfM"}]},"mark":{"type":"text","fontWeight":"bold","fontSize":26,"color":"#000","font":"Liberation Sans"},"encoding":{"x":{"field":"x","type":"quantitative","scale":{"domain":[0,180],"range":[0,1800]},"axis":null},"y":{"field":"y","type":"quantitative","scale":{"domain":[0,101.9],"range":[0,1019]},"axis":null},"text":{"field":"label"}}},
{"data":{"name":"bonds"},"mark":{"type":"rule","stroke":"#000","strokeWidth":1.7},"encoding":{"x":{"field":"x","type":"quantitative","scale":{"domain":[0,180],"range":[0,1800]},"axis":null},"y":{"field":"y","type":"quantitative","scale":{"domain":[0,101.9],"range":[0,1019]},"axis":null},"x2":{"field":"x2"},"y2":{"field":"y2"}}},
{"data":{"values":[{"x":149.17,"y":16.43,"x2":160.0,"y2":16.43}]},"mark":{"type":"rule","stroke":"#000","strokeWidth":2.6},"encoding":{"x":{"field":"x","type":"quantitative","scale":{"domain":[0,180],"range":[0,1800]},"axis":null},"y":{"field":"y","type":"quantitative","scale":{"domain":[0,101.9],"range":[0,1019]},"axis":null},"x2":{"field":"x2"},"y2":{"field":"y2"}}},
{"data":{"name":"wedges"},"mark":{"type":"trail","color":"#000"},"encoding":{"x":{"field":"x","type":"quantitative","scale":{"domain":[0,180],"range":[0,1800]},"axis":null},"y":{"field":"y","type":"quantitative","scale":{"domain":[0,101.9],"range":[0,1019]},"axis":null},"size":{"field":"w","type":"quantitative","scale":{"domain":[0,1],"range":[0.5,6]},"legend":null},"detail":{"field":"id"},"order":{"field":"i"}}},
{"data":{"name":"waves"},"mark":{"type":"line","stroke":"#000","strokeWidth":1.3,"interpolate":"cardinal"},"encoding":{"x":{"field":"x","type":"quantitative","scale":{"domain":[0,180],"range":[0,1800]},"axis":null},"y":{"field":"y","type":"quantitative","scale":{"domain":[0,101.9],"range":[0,1019]},"axis":null},"detail":{"field":"id"},"order":{"value":null}}},
{"data":{"name":"curves"},"mark":{"type":"line","stroke":"#000","strokeWidth":1.5,"interpolate":"cardinal"},"encoding":{"x":{"field":"x","type":"quantitative","scale":{"domain":[0,180],"range":[0,1800]},"axis":null},"y":{"field":"y","type":"quantitative","scale":{"domain":[0,101.9],"range":[0,1019]},"axis":null},"detail":{"field":"id"},"order":{"value":null}}},
{"data":{"name":"noeCurve"},"mark":{"type":"line","stroke":"#ee2f7a","strokeWidth":2.6,"interpolate":"cardinal"},"encoding":{"x":{"field":"x","type":"quantitative","scale":{"domain":[0,180],"range":[0,1800]},"axis":null},"y":{"field":"y","type":"quantitative","scale":{"domain":[0,101.9],"range":[0,1019]},"axis":null},"order":{"value":null}}},
{"data":{"name":"heads"},"mark":{"type":"point","shape":"M-1,-0.55L1,0L-1,0.55L-0.6,0Z","filled":true,"opacity":1,"strokeWidth":0},"encoding":{"x":{"field":"x","type":"quantitative","scale":{"domain":[0,180],"range":[0,1800]},"axis":null},"y":{"field":"y","type":"quantitative","scale":{"domain":[0,101.9],"range":[0,1019]},"axis":null},"angle":{"field":"dir","type":"quantitative","scale":null},"size":{"field":"area","type":"quantitative","scale":null},"color":{"field":"tone","type":"nominal","scale":{"domain":["ink","acid","water"],"range":["#000000","#ee2f7a","#1a8cff"]},"legend":null}}},
{"data":{"name":"chemText"},"mark":{"type":"text","fontSize":18.5,"font":"Liberation Sans"},"encoding":{"x":{"field":"x","type":"quantitative","scale":{"domain":[0,180],"range":[0,1800]},"axis":null},"y":{"field":"y","type":"quantitative","scale":{"domain":[0,101.9],"range":[0,1019]},"axis":null},"text":{"field":"label"},"color":{"field":"tone","type":"nominal","scale":{"domain":["ink","acid","water"],"range":["#000000","#ee2f7a","#1a8cff"]},"legend":null}}},
{"data":{"name":"waterText"},"mark":{"type":"text","fontSize":15.5,"fontWeight":"bold","font":"Liberation Sans"},"encoding":{"x":{"field":"x","type":"quantitative","scale":{"domain":[0,180],"range":[0,1800]},"axis":null},"y":{"field":"y","type":"quantitative","scale":{"domain":[0,101.9],"range":[0,1019]},"axis":null},"text":{"field":"label"},"color":{"field":"tone","type":"nominal","scale":{"domain":["ink","acid","water"],"range":["#000000","#ee2f7a","#1a8cff"]},"legend":null}}},
{"data":{"values":[{"x":92.83,"y":60.07,"label":"NOE"}]},"mark":{"type":"text","fontSize":25.5,"color":"#ee2f7a","font":"Liberation Sans"},"encoding":{"x":{"field":"x","type":"quantitative","scale":{"domain":[0,180],"range":[0,1800]},"axis":null},"y":{"field":"y","type":"quantitative","scale":{"domain":[0,101.9],"range":[0,1019]},"axis":null},"text":{"field":"label"}}},
{"data":{"name":"boldText"},"mark":{"type":"text","fontSize":23.5,"fontWeight":"bold","color":"#111","font":"Liberation Sans"},"encoding":{"x":{"field":"x","type":"quantitative","scale":{"domain":[0,180],"range":[0,1800]},"axis":null},"y":{"field":"y","type":"quantitative","scale":{"domain":[0,101.9],"range":[0,1019]},"axis":null},"text":{"field":"label"}}},
{"data":{"name":"noeText"},"mark":{"type":"text","fontSize":18.3,"fontWeight":"bold","color":"#111","font":"Liberation Sans"},"encoding":{"x":{"field":"x","type":"quantitative","scale":{"domain":[0,180],"range":[0,1800]},"axis":null},"y":{"field":"y","type":"quantitative","scale":{"domain":[0,101.9],"range":[0,1019]},"axis":null},"text":{"field":"label"}}},
{"data":{"name":"letters"},"mark":{"type":"text","fontSize":56,"fontWeight":"bold","color":"#000","align":"left","baseline":"alphabetic","font":"Liberation Sans"},"encoding":{"x":{"field":"x","type":"quantitative","scale":{"domain":[0,180],"range":[0,1800]},"axis":null},"y":{"field":"y","type":"quantitative","scale":{"domain":[0,101.9],"range":[0,1019]},"axis":null},"text":{"field":"label"}}},
{"data":{"name":"ytitle"},"mark":{"type":"text","fontSize":17,"fontWeight":"bold","color":"#111","angle":270,"font":"Liberation Sans"},"encoding":{"x":{"field":"x","type":"quantitative","scale":{"domain":[0,180],"range":[0,1800]},"axis":null},"y":{"field":"y","type":"quantitative","scale":{"domain":[0,101.9],"range":[0,1019]},"axis":null},"text":{"field":"label"}}},
{"data":{"name":"ydelta"},"mark":{"type":"text","fontSize":25,"color":"#111","angle":270,"font":"Liberation Serif"},"encoding":{"x":{"field":"x","type":"quantitative","scale":{"domain":[0,180],"range":[0,1800]},"axis":null},"y":{"field":"y","type":"quantitative","scale":{"domain":[0,101.9],"range":[0,1019]},"axis":null},"text":{"field":"label"}}}
]
}
